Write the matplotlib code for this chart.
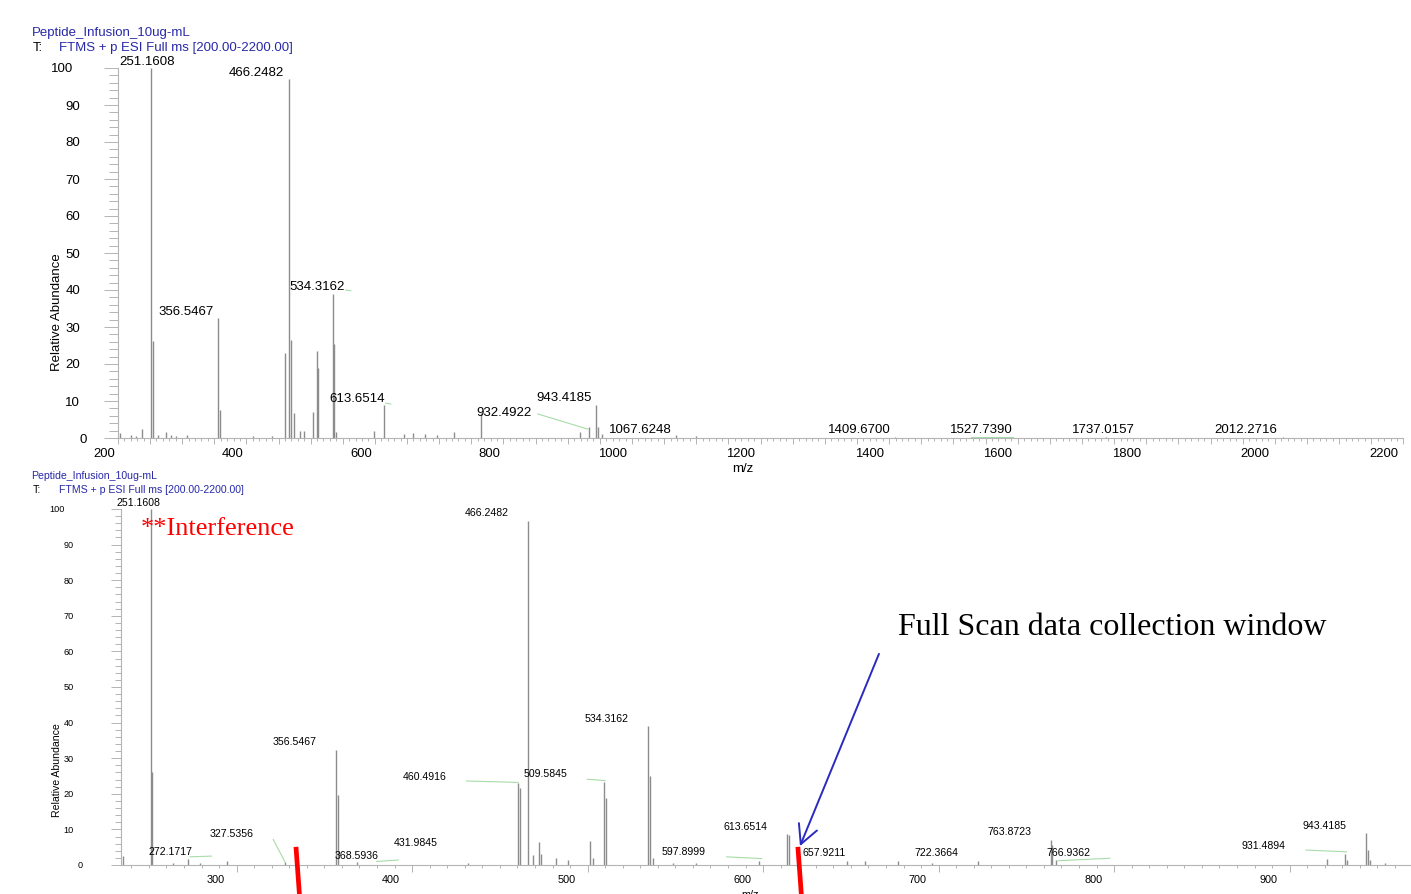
import matplotlib
matplotlib.use("Agg")
import matplotlib.pyplot as plt
import numpy as np
from matplotlib.ticker import FixedLocator, MultipleLocator
from matplotlib.transforms import ScaledTranslation

# ---------------- data ----------------
run_name = "Peptide_Infusion_10ug-mL"
scan_filter = "FTMS + p ESI Full ms [200.00-2200.00]"

# full-range scan, m/z 200-2200
full_mz = [203.6, 220.0, 228.0, 236.9, 251.1608, 254.5, 262.0, 274.7, 283.0, 290.0,
           308.0, 356.5467, 358.5, 410.0, 440.0, 460.4916, 466.2482, 469.0, 474.3, 483.0,
           489.0, 503.4, 509.5845, 511.0, 534.3162, 536.0, 540.0, 598.3, 613.6514, 645.4,
           659.4, 677.6, 697.0, 723.0, 765.8, 919.0, 932.4922, 943.4185, 946.5, 954.0,
           1067.6248, 1100.0, 1409.6700, 1527.7390, 1737.0157, 2012.2716]
full_int = [1.3, 0.8, 0.6, 2.4, 100.0, 26.3, 0.8, 1.5, 0.7, 0.6,
            0.8, 32.4, 7.6, 0.5, 0.5, 23.0, 97.0, 26.5, 6.8, 2.0,
            2.0, 7.0, 23.5, 19.0, 39.0, 25.4, 1.5, 2.0, 9.0, 1.0,
            1.3, 1.0, 0.7, 1.5, 6.7, 1.5, 3.0, 9.0, 3.0, 1.0,
            0.8, 0.5, 0.4, 0.4, 0.3, 0.3]
full_labels = [251.1608, 356.5467, 466.2482, 534.3162, 613.6514, 932.4922, 943.4185,
               1067.6248, 1409.6700, 1527.7390, 1737.0157, 2012.2716]

# expanded view of the same scan
zoom_mz = [235.1, 251.1608, 251.91, 263.5, 272.1717, 279.0, 294.3, 327.5356, 356.5467, 357.6,
           368.5936, 431.9845, 460.4916, 461.3, 466.2482, 469.0, 472.4, 473.2, 481.9, 488.9,
           501.3, 503.2, 509.5845, 510.3, 534.3162, 535.5, 537.0, 548.6, 562.0, 597.8999,
           613.6514, 614.6, 647.6, 657.9211, 677.0, 696.0, 722.3664, 763.8723, 764.8, 766.9362,
           921.1, 931.4894, 932.5, 943.4185, 944.6, 946.0, 954.3]
zoom_int = [2.5, 100.0, 26.2, 0.6, 1.7, 0.5, 1.1, 0.8, 32.3, 19.7,
            0.8, 0.6, 22.9, 21.6, 96.6, 2.8, 6.6, 3.0, 2.0, 1.5,
            6.7, 2.0, 23.4, 18.9, 39.0, 25.0, 2.0, 0.5, 0.5, 1.2,
            8.6, 8.3, 1.0, 1.0, 1.0, 0.5, 1.0, 7.0, 5.6, 1.5,
            1.7, 3.1, 1.5, 8.9, 4.2, 1.5, 0.5]
zoom_labels = [251.1608, 272.1717, 327.5356, 356.5467, 368.5936, 431.9845, 460.4916,
               466.2482, 509.5845, 534.3162, 597.8999, 613.6514, 657.9211, 722.3664,
               763.8723, 766.9362, 931.4894, 943.4185]

# edges of the full-scan data collection window (m/z)
window_edges = [333.8, 619.8]

# ---------------- layout ----------------
W, H, DPI = 1411, 894, 100
fig = plt.figure(figsize=(W / DPI, H / DPI), dpi=DPI)
plt.rcParams["font.family"] = ["Liberation Sans", "DejaVu Sans"]

BLUE = "#2828a8"
GREY = "#b4b4b4"
PEAK = "#8c8c8c"
LEADER = "#a8dca8"


def fxy(px, py):
    return px / W, 1 - py / H


# label anchor positions (m/z, abundance) for each annotated peak
full_label_pos = {251.1608: (245.7, 101.7), 356.5467: (306.4, 34.1), 466.2482: (416.1, 98.7),
                  534.3162: (510.7, 40.9), 613.6514: (572.9, 10.5), 932.4922: (800.8, 6.8),
                  943.4185: (893.7, 10.7), 1067.6248: (1012.8, 2.2), 1409.6700: (1353.9, 2.2),
                  1527.7390: (1543.8, 2.2), 1737.0157: (1733.6, 2.2), 2012.2716: (1954.5, 2.2)}
full_leaders = [((853.4, 6.5), (931.2, 2.4)), ((554.7, 40.0), (562.5, 39.8)),
                ((617.0, 9.4), (624.7, 9.2)), ((1529.0, 0.3), (1593.0, 0.3))]

zoom_label_pos = {251.1608: (244.2, 101.8), 272.1717: (262.4, 3.6), 327.5356: (297.3, 8.6),
                  356.5467: (333.0, 34.5), 368.5936: (368.6, 2.5), 431.9845: (401.9, 6.1),
                  460.4916: (407.0, 24.6), 466.2482: (442.6, 98.9), 509.5845: (475.8, 25.6),
                  534.3162: (511.0, 40.9), 597.8999: (554.9, 3.6), 613.6514: (589.8, 10.6),
                  657.9211: (634.6, 3.3), 722.3664: (698.9, 3.5), 763.8723: (740.6, 9.2),
                  766.9362: (773.8, 3.5), 931.4894: (885.2, 5.3), 943.4185: (920.1, 11.0)}
zoom_leaders = [((273.4, 2.3), (285.7, 2.5)), ((320.8, 7.2), (327.5, 0.9)),
                ((379.8, 1.0), (392.1, 1.4)), ((431.0, 23.6), (460.4, 23.2)),
                ((499.8, 24.1), (509.9, 23.7)), ((579.2, 2.3), (599.1, 1.8)),
                ((768.1, 1.2), (797.6, 1.9)), ((909.3, 4.2), (932.5, 3.7))]


def style_axes(ax):
    ax.patch.set_alpha(0)
    for s in ("top", "right"):
        ax.spines[s].set_visible(False)
    for s in ("left", "bottom"):
        ax.spines[s].set_color(GREY)
        ax.spines[s].set_linewidth(0.8)


def shift_ticklabels(axis, labels, shift_fn):
    ticks = axis.get_major_ticks(len(labels))
    for tick, lab in zip(ticks, labels):
        dx, dy = shift_fn(lab)
        tr = tick.label1.get_transform()
        tick.label1.set_transform(tr + ScaledTranslation(dx / DPI, dy / DPI, fig.dpi_scale_trans))


# ---------------- top panel: full scan ----------------
ax1 = fig.add_axes([117.8 / W, 1 - 438 / H, 1285.6 / W, 370 / H])
style_axes(ax1)
ax1.vlines(full_mz, 0, full_int, color=PEAK, lw=1.0)
ax1.set_xlim(200, 2200)
ax1.set_ylim(0, 100)

xt1 = np.arange(200, 2201, 50)
xl1 = [str(int(v)) if v % 200 == 0 else "" for v in xt1]
ax1.xaxis.set_major_locator(FixedLocator(xt1))
ax1.set_xticklabels(xl1)
ax1.xaxis.set_minor_locator(MultipleLocator(10))
yt1 = np.arange(0, 101, 10)
yl1 = [str(int(v)) for v in yt1]
ax1.yaxis.set_major_locator(FixedLocator(yt1))
ax1.set_yticklabels(yl1)
ax1.yaxis.set_minor_locator(MultipleLocator(2))
ax1.tick_params(axis="x", which="major", length=4.5, width=0.7, color=GREY, pad=3.0, labelsize=9.4)
ax1.tick_params(axis="x", which="minor", length=1.8, width=0.7, color=GREY)
ax1.tick_params(axis="y", which="major", length=10, width=0.7, color=GREY, pad=12.2, labelsize=9.5)
ax1.tick_params(axis="y", which="minor", length=6.5, width=0.7, color=GREY)
shift_ticklabels(ax1.xaxis, xl1, lambda s: (-(6 * len(s) - 4), 0))
shift_ticklabels(ax1.yaxis, yl1, lambda s: (-7 * (len(s) - 1), 0))

for mz in full_labels:
    x, y = full_label_pos[mz]
    ax1.text(x, y, f"{mz:.4f}", fontsize=9.5, ha="center", va="center", color="black")
for (x0, y0), (x1, y1) in full_leaders:
    ax1.plot([x0, x1], [y0, y1], color=LEADER, lw=0.8)

fig.text(*fxy(743, 469), "m/z", fontsize=9.5, ha="center", va="center")
fig.text(*fxy(57, 312), "Relative Abundance", fontsize=9.5, rotation=90,
         ha="center", va="center")
fig.text(*fxy(31.5, 33), run_name, fontsize=9.5, color=BLUE, ha="left", va="center")
fig.text(*fxy(33, 48), "T:", fontsize=9.5, color="black", ha="left", va="center")
fig.text(*fxy(59.3, 48), scan_filter, fontsize=9.5, color=BLUE, ha="left", va="center")

# ---------------- bottom panel: expanded view ----------------
ax2 = fig.add_axes([121 / W, 1 - 865 / H, 1289 / W, 356 / H])
style_axes(ax2)
ax2.vlines(zoom_mz, 0, zoom_int, color=PEAK, lw=1.0)
ax2.set_xlim(234.1, 968.6)
ax2.set_ylim(0, 100)

xt2 = np.arange(300, 901, 100)
xl2 = [str(int(v)) for v in xt2]
ax2.xaxis.set_major_locator(FixedLocator(xt2))
ax2.set_xticklabels(xl2)
ax2.xaxis.set_minor_locator(MultipleLocator(10))
yt2 = np.arange(0, 101, 10)
yl2 = [str(int(v)) for v in yt2]
ax2.yaxis.set_major_locator(FixedLocator(yt2))
ax2.set_yticklabels(yl2)
ax2.yaxis.set_minor_locator(MultipleLocator(2))
ax2.tick_params(axis="x", which="major", length=5, width=0.7, color=GREY, pad=2.2, labelsize=7.8)
ax2.tick_params(axis="x", which="minor", length=2.5, width=0.7, color=GREY)
ax2.tick_params(axis="y", which="major", length=7.2, width=0.7, color=GREY, pad=20, labelsize=6.6)
ax2.tick_params(axis="y", which="minor", length=4.3, width=0.7, color=GREY)
shift_ticklabels(ax2.xaxis, xl2, lambda s: (-21, 0))
shift_ticklabels(ax2.yaxis, yl2, lambda s: (-9.5 * (len(s) - 1), 0))

for mz in zoom_labels:
    x, y = zoom_label_pos[mz]
    ax2.text(x, y, f"{mz:.4f}", fontsize=7.6, ha="center", va="center", color="black")
for (x0, y0), (x1, y1) in zoom_leaders:
    ax2.plot([x0, x1], [y0, y1], color=LEADER, lw=0.8)

# collection-window edges, running down past the axis
for edge in window_edges:
    ax2.plot([edge, edge + 2.3], [5.1, -10.5], color="#ff0000", lw=3.4,
             solid_capstyle="butt", clip_on=False, zorder=5)

ax2.text(245.5, 94.5, "**Interference", fontsize=19, color="#ff0000",
         family=["Liberation Serif", "DejaVu Serif"], ha="left", va="center")
ax2.text(676.8, 66.8, "Full Scan data collection window", fontsize=23, color="black",
         family=["Liberation Serif", "DejaVu Serif"], ha="left", va="center")
ax2.annotate("", xy=(621.0, 5.3), xytext=(666.0, 59.3),
             arrowprops=dict(arrowstyle="->,head_length=1.35,head_width=0.7",
                             color="#2a2ac0", lw=1.4, shrinkA=0, shrinkB=0))

fig.text(*fxy(750, 895), "m/z", fontsize=7.8, ha="center", va="center")
fig.text(*fxy(57, 770), "Relative Abundance", fontsize=7.6, rotation=90,
         ha="center", va="center")
fig.text(*fxy(31.5, 475.5), run_name, fontsize=7.6, color=BLUE, ha="left", va="center")
fig.text(*fxy(33, 489.5), "T:", fontsize=7.6, color="black", ha="left", va="center")
fig.text(*fxy(59.3, 489.5), scan_filter, fontsize=7.6, color=BLUE, ha="left", va="center")

fig.savefig("out.png", dpi=DPI)
